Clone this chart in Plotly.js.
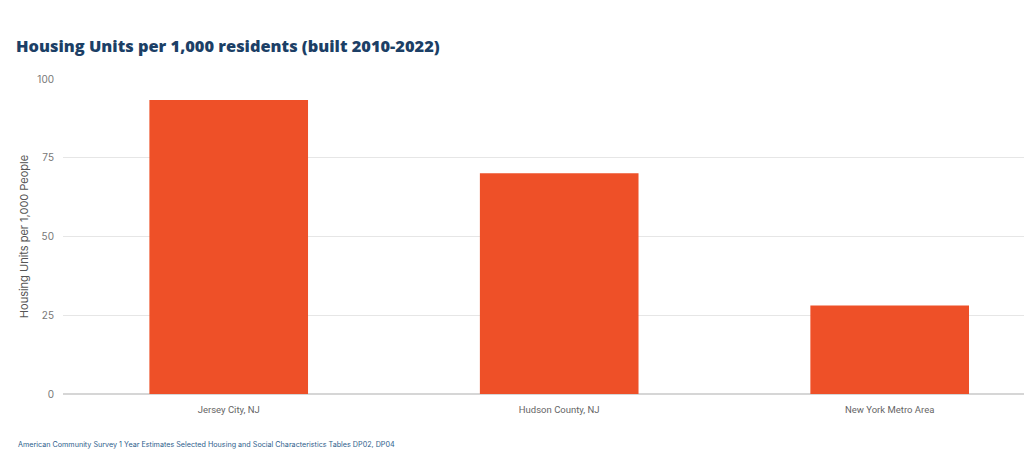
<!DOCTYPE html>
<html>
<head>
<meta charset="utf-8">
<script src="https://cdn.plot.ly/plotly-3.0.1.min.js"></script>
<style>html,body{margin:0;padding:0;background:#fff;}#chart{width:1024px;height:475px;}</style>
</head>
<body>
<div id="chart"></div>
<script>
const categories = ["Jersey City, NJ", "Hudson County, NJ", "New York Metro Area"];
const unitsPer1000 = [93.3, 70.1, 28.1];
const yTicks = [0, 25, 50, 75, 100];

const trace = {
  type: "bar",
  x: categories,
  y: unitsPer1000,
  width: 0.48,
  marker: {color: "#EE5028", line: {width: 0}},
  hoverinfo: "x+y"
};

const layout = {
  width: 1024,
  height: 475,
  margin: {l: 63, r: 0, t: 79, b: 80.5},
  paper_bgcolor: "#ffffff",
  plot_bgcolor: "#ffffff",
  font: {family: "Inter, 'Open Sans', sans-serif", color: "#666"},
  title: {
    text: "Housing Units per 1,000 residents (built 2010-2022)",
    x: 16 / 1024, xref: "container", xanchor: "left",
    y: 1 - 46 / 475, yref: "container", yanchor: "middle",
    font: {family: "'Open Sans', Inter, sans-serif", size: 16.4, color: "#1C3F66", weight: 800}
  },
  xaxis: {
    type: "category",
    range: [-0.5014, 2.4064],
    showgrid: false,
    zeroline: false,
    showline: false,
    ticks: "",
    ticklabelstandoff: 8,
    tickfont: {size: 9.5, color: "#666", family: "'Liberation Sans Narrow', 'Roboto', sans-serif"},
    fixedrange: true
  },
  yaxis: {
    range: [0, 100],
    tickvals: yTicks,
    ticktext: yTicks.map(String),
    showgrid: true,
    gridcolor: "#e6e6e6",
    gridwidth: 1,
    zeroline: true,
    zerolinecolor: "#d6d6d6",
    zerolinewidth: 1.5,
    ticks: "",
    ticklabelstandoff: 8,
    tickfont: {size: 10, color: "#777"},
    title: {text: "Housing Units per 1,000 People", font: {size: 11, color: "#555"}, standoff: 6},
    fixedrange: true
  },
  showlegend: false,
  annotations: [{
    text: "American Community Survey 1 Year Estimates Selected Housing and Social Characteristics Tables DP02, DP04",
    xref: "paper", yref: "paper",
    x: 0, y: 0, xanchor: "left", yanchor: "middle",
    xshift: -47, yshift: -50.5,
    showarrow: false,
    font: {size: 7.2, color: "#2E5E8C", family: "Inter, 'Open Sans', sans-serif"}
  }]
};

Plotly.newPlot("chart", [trace], layout, {displayModeBar: false, staticPlot: true});
</script>
</body>
</html>
